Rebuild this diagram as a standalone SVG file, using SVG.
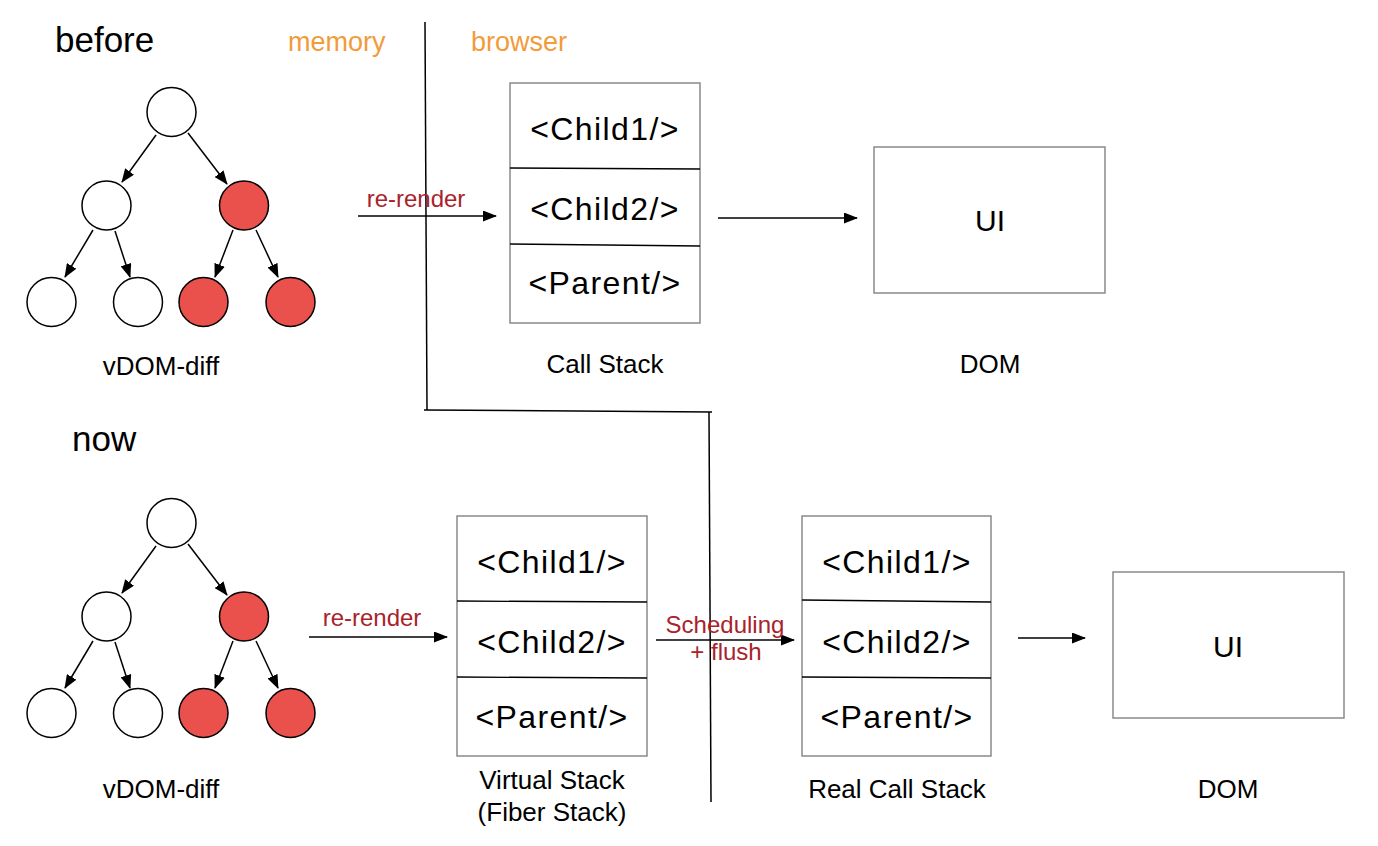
<svg xmlns="http://www.w3.org/2000/svg" width="1378" height="846" viewBox="0 0 1378 846">
<style>
text{font-family:"Liberation Sans",Arial,Helvetica,sans-serif;fill:#000}
.big{font-size:35px}
.lbl{font-size:26px;text-anchor:middle}
.stk{font-size:32px;text-anchor:middle;letter-spacing:1.4px}
.ui{font-size:30px;text-anchor:middle}
.org{font-size:27px;fill:#F19B3A}
.red{font-size:24px;fill:#A8232B;text-anchor:middle}
.box{fill:#fff;stroke:#8a8a8a;stroke-width:1.5}
.div{stroke:#000;stroke-width:1.3}
.wc{fill:#fff;stroke:#000;stroke-width:1.5}
.rc{fill:#EA514C;stroke:#000;stroke-width:1.5}
.edge{stroke:#000;stroke-width:1.5;fill:none;marker-end:url(#ah)}
.sep{stroke:#000;stroke-width:1.5;fill:none}
</style>
<defs>
<marker id="ah" viewBox="0 0 14 11" markerWidth="14" markerHeight="11" refX="13" refY="5.5" orient="auto" markerUnits="userSpaceOnUse">
<path d="M0,0 L14,5.5 L0,11 z" fill="#000"/>
</marker>
</defs>
<rect width="1378" height="846" fill="#fff"/>

<g id="labels">
<text x="55" y="52" class="big">before</text>
<text x="72" y="451" class="big">now</text>
<text x="288" y="51" class="org">memory</text>
<text x="471" y="51" class="org">browser</text>
<text x="161" y="375" class="lbl">vDOM-diff</text>
<text x="161" y="798" class="lbl">vDOM-diff</text>
<text x="605" y="373" class="lbl">Call Stack</text>
<text x="990" y="373" class="lbl">DOM</text>
<text x="552" y="789" class="lbl">Virtual Stack</text>
<text x="552" y="821" class="lbl">(Fiber Stack)</text>
<text x="897" y="798" class="lbl">Real Call Stack</text>
<text x="1228" y="798" class="lbl">DOM</text>
</g>

<g id="separators">
<path class="sep" d="M425,22 L427,410"/>
<path class="sep" d="M424,410 L712,412"/>
<path class="sep" d="M709,412 L711,802"/>
</g>

<g id="tree-before">
<circle class="wc" cx="171.5" cy="112" r="24.5"/>
<circle class="wc" cx="106.5" cy="205.5" r="24.5"/>
<circle class="rc" cx="244" cy="205.5" r="24.5"/>
<circle class="wc" cx="51.5" cy="302" r="24.5"/>
<circle class="wc" cx="138" cy="302" r="24.5"/>
<circle class="rc" cx="203.5" cy="302" r="24.5"/>
<circle class="rc" cx="290.5" cy="302" r="24.5"/>
</g>

<g id="tree-now">
<circle class="wc" cx="171.5" cy="523" r="24.5"/>
<circle class="wc" cx="106.5" cy="616.5" r="24.5"/>
<circle class="rc" cx="244" cy="616.5" r="24.5"/>
<circle class="wc" cx="51.5" cy="713" r="24.5"/>
<circle class="wc" cx="138" cy="713" r="24.5"/>
<circle class="rc" cx="203.5" cy="713" r="24.5"/>
<circle class="rc" cx="290.5" cy="713" r="24.5"/>
</g>

<g id="call-stack">
<rect class="box" x="510" y="83" width="190" height="240"/>
<line class="div" x1="510" y1="168" x2="700" y2="169"/>
<line class="div" x1="510" y1="244" x2="700" y2="246"/>
<text x="605" y="140" class="stk">&lt;Child1/&gt;</text>
<text x="605" y="220" class="stk">&lt;Child2/&gt;</text>
<text x="605" y="294" class="stk">&lt;Parent/&gt;</text>
</g>

<g id="dom-before">
<rect class="box" x="874" y="147" width="231" height="146"/>
<text x="990" y="231" class="ui">UI</text>
</g>

<g id="virtual-stack">
<rect class="box" x="457" y="516" width="190" height="240"/>
<line class="div" x1="457" y1="601" x2="647" y2="602"/>
<line class="div" x1="457" y1="677" x2="647" y2="678"/>
<text x="552" y="573" class="stk">&lt;Child1/&gt;</text>
<text x="552" y="653" class="stk">&lt;Child2/&gt;</text>
<text x="552" y="728" class="stk">&lt;Parent/&gt;</text>
</g>

<g id="real-stack">
<rect class="box" x="802" y="516" width="189" height="240"/>
<line class="div" x1="802" y1="600" x2="991" y2="602"/>
<line class="div" x1="802" y1="677" x2="991" y2="678"/>
<text x="897" y="573" class="stk">&lt;Child1/&gt;</text>
<text x="897" y="653" class="stk">&lt;Child2/&gt;</text>
<text x="897" y="728" class="stk">&lt;Parent/&gt;</text>
</g>

<g id="dom-now">
<rect class="box" x="1113" y="572" width="231" height="146"/>
<text x="1228" y="657" class="ui">UI</text>
</g>

<g id="connectors">
<path class="edge" d="M156,135 L122,182"/>
<path class="edge" d="M188,133 L227,184"/>
<path class="edge" d="M93,230 L65,277"/>
<path class="edge" d="M115,231 L130,277"/>
<path class="edge" d="M233,230 L215,277"/>
<path class="edge" d="M256,230 L278,277"/>

<path class="edge" d="M156,546 L122,593"/>
<path class="edge" d="M188,544 L227,595"/>
<path class="edge" d="M93,641 L65,688"/>
<path class="edge" d="M115,642 L130,688"/>
<path class="edge" d="M233,641 L215,688"/>
<path class="edge" d="M256,641 L278,688"/>

<path class="edge" d="M358,216 L496,216"/>
<text x="416" y="207" class="red">re-render</text>
<path class="edge" d="M718,218 L857,218"/>

<path class="edge" d="M309,637 L447,637"/>
<text x="372" y="626" class="red">re-render</text>
<path class="edge" d="M656,640 L794,640"/>
<text x="725" y="633" class="red">Scheduling</text>
<text x="726" y="660" class="red">+ flush</text>
<path class="edge" d="M1018,638 L1085,638"/>
</g>
</svg>
